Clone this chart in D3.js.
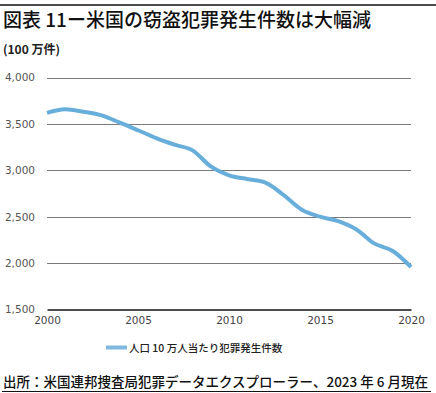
<!DOCTYPE html>
<html><head><meta charset="utf-8">
<script src="https://cdn.jsdelivr.net/npm/d3@7"></script>
<style>
html,body{margin:0;padding:0;background:#fff;}
svg{display:block;}
</style>
</head><body>
<svg id="chart" width="436" height="393"></svg>
<script>
const years = [2000,2001,2002,2003,2004,2005,2006,2007,2008,2009,2010,2011,2012,2013,2014,2015,2016,2017,2018,2019,2020];
const rates = [3618.3,3658.1,3630.6,3591.2,3514.1,3431.5,3346.6,3276.4,3214.6,3041.3,2945.9,2905.4,2868.0,2733.6,2574.1,2500.5,2451.6,2362.9,2209.8,2130.6,1958.2];
const yTicks = [1500,2000,2500,3000,3500,4000];
const xTicks = [2000,2005,2010,2015,2020];
const titleText = "図表 11ー米国の窃盗犯罪発生件数は大幅減";
const unitText = "(100 万件)";
const legendText = "人口 10 万人当たり犯罪発生件数";
const sourceText = "出所：米国連邦捜査局犯罪データエクスプローラー、2023 年 6 月現在";

const svg = d3.select("#chart");
const cjk = "'Noto Sans CJK JP', 'Noto Sans', sans-serif";
const num = "'DejaVu Sans', Verdana, sans-serif";

const x = d3.scaleLinear().domain([2000,2020]).range([47,411]);
const y = d3.scaleLinear().domain([1500,4000]).range([309.5,77.5]);

// top rule
svg.append("line").attr("x1",0).attr("x2",436).attr("y1",5).attr("y2",5)
  .attr("stroke","#111").attr("stroke-width",1.5);

svg.append("text").attr("x",3).attr("y",27).text(titleText)
  .attr("font-family",cjk).attr("font-size",19).attr("font-weight",500).attr("fill","#111");
svg.append("text").attr("x",3).attr("y",54).text(unitText)
  .attr("font-family",cjk).attr("font-size",12).attr("font-weight",700).attr("fill","#222");

// gridlines
svg.append("g").selectAll("line").data(yTicks.filter(d=>d>1500)).join("line")
  .attr("x1",x(2000)).attr("x2",x(2020))
  .attr("y1",d=>Math.round(y(d))+0.5).attr("y2",d=>Math.round(y(d))+0.5)
  .attr("stroke","#7a7a7a").attr("stroke-width",1);

// y axis
const yAxis = svg.append("g").attr("transform","translate(47,0)")
  .call(d3.axisLeft(y).tickValues(yTicks).tickSize(0).tickPadding(12).tickFormat(d3.format(",")));
yAxis.select(".domain").remove();
yAxis.selectAll("text").attr("font-family",num).attr("font-size",10.5).attr("fill","#555");

// x axis
const xAxis = svg.append("g").attr("transform",`translate(0,${y(1500)})`)
  .call(d3.axisBottom(x).tickValues(xTicks).tickSize(0).tickPadding(7).tickFormat(d3.format("d")));
xAxis.select(".domain").attr("stroke","#111").attr("stroke-width",1.5);
xAxis.selectAll("text").attr("font-family",num).attr("font-size",10.5).attr("fill","#444");

// line
const line = d3.line().x((d,i)=>x(years[i])).y(d=>y(d)).curve(d3.curveMonotoneX);
svg.append("path").datum(rates).attr("d",line)
  .attr("fill","none").attr("stroke","#68aedb").attr("stroke-width",4).attr("stroke-linejoin","round");

// legend
svg.append("line").attr("x1",106).attr("x2",127).attr("y1",347.5).attr("y2",347.5)
  .attr("stroke","#7fb9dd").attr("stroke-width",4);
svg.append("text").attr("x",129).attr("y",351.5).text(legendText)
  .attr("font-family",cjk).attr("font-size",10.5).attr("font-weight",500).attr("fill","#222");

// source
svg.append("text").attr("x",3).attr("y",387).text(sourceText)
  .attr("font-family",cjk).attr("font-size",13.5).attr("font-weight",500).attr("fill","#111");
svg.append("line").attr("x1",2).attr("x2",431).attr("y1",391.5).attr("y2",391.5)
  .attr("stroke","#111").attr("stroke-width",1);
</script>
</body></html>
